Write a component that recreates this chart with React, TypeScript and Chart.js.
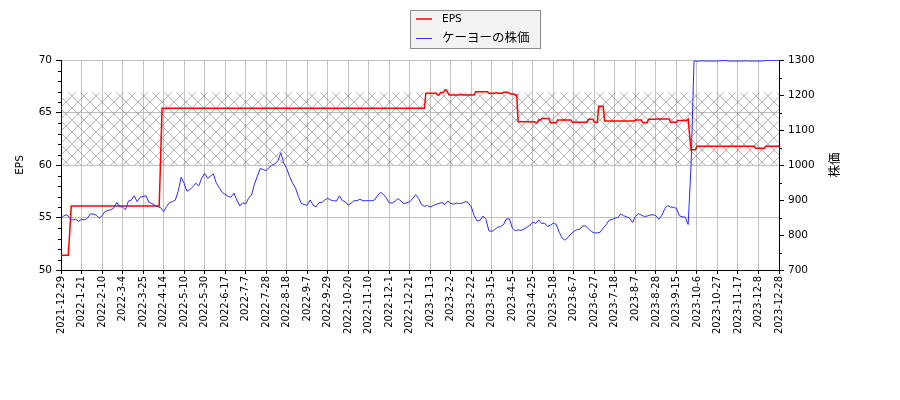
import { useEffect, useRef } from "react";
import { Chart, registerables } from "chart.js";

Chart.register(...registerables);

// date labels on the x axis, one every 14 trading days
const xLabels = [
  "2021-12-29", "2022-1-21", "2022-2-10", "2022-3-4", "2022-3-25", "2022-4-14",
  "2022-5-10", "2022-5-30", "2022-6-17", "2022-7-7", "2022-7-28", "2022-8-18",
  "2022-9-7", "2022-9-29", "2022-10-20", "2022-11-10", "2022-12-1", "2022-12-21",
  "2023-1-13", "2023-2-2", "2023-2-22", "2023-3-15", "2023-4-5", "2023-4-25",
  "2023-5-18", "2023-6-7", "2023-6-27", "2023-7-18", "2023-8-7", "2023-8-28",
  "2023-9-15", "2023-10-6", "2023-10-27", "2023-11-17", "2023-12-8", "2023-12-28",
];
const TICK_EVERY = 14;

// share price (yen), one value every 2 trading days
const PRICE_STEP = 2;
const priceValues = [
  848, 855, 858, 848, 843, 845, 839, 845, 843, 848,
  860, 860, 857, 848, 855, 867, 870, 872, 877, 893,
  881, 880, 872, 897, 900, 912, 895, 908, 910, 912,
  893, 890, 885, 881, 878, 867, 881, 893, 895, 900,
  925, 965, 948, 925, 930, 938, 948, 940, 962, 976,
  962, 968, 975, 948, 935, 922, 916, 910, 908, 920,
  900, 883, 892, 889, 905, 914, 945, 968, 990, 987,
  984, 993, 999, 1003, 1012, 1035, 1006, 990, 967, 948,
  935, 910, 890, 887, 885, 900, 886, 880, 892, 893,
  900, 905, 900, 898, 897, 912, 898, 895, 885, 891,
  898, 898, 902, 898, 898, 898, 898, 900, 912, 922,
  916, 906, 892, 891, 897, 904, 897, 890, 892, 895,
  904, 915, 905, 887, 882, 884, 880, 884, 888, 890,
  893, 887, 897, 890, 888, 891, 890, 891, 896, 892,
  880, 855, 840, 842, 854, 845, 812, 810, 816, 822,
  824, 830, 846, 846, 820, 812, 815, 813, 817, 822,
  828, 837, 833, 843, 833, 834, 825, 828, 834, 830,
  808, 791, 785, 794, 803, 810, 815, 816, 826, 826,
  817, 810, 806, 806, 808, 820, 829, 842, 844, 848,
  850, 860, 855, 852, 848, 836, 852, 861, 857, 853,
  854, 857, 858, 855, 845, 856, 875, 884, 880, 879,
  876, 855, 852, 851, 830, 1000, 1297, 1297, 1297, 1298,
  1297, 1297, 1297, 1297, 1297, 1298, 1299, 1298, 1297, 1297,
  1297, 1297, 1297, 1297, 1298, 1297, 1297, 1297, 1297, 1297,
  1298, 1299, 1299, 1299, 1299, 1299,
];

// EPS as [trading day, value] where it changes
const epsPoints: [number, number][] = [
  [0, 51.4], [5, 51.4], [6, 53.7], [7, 56.1], [67, 56.1], [68, 60.7], [69, 65.4],
  [248, 65.4], [249, 66.83], [256, 66.83], [257, 66.67], [258, 66.67], [259, 66.9],
  [261, 66.9], [262, 67.14], [263, 67.14], [264, 66.9], [265, 66.67], [272, 66.67],
  [273, 66.76], [274, 66.67], [282, 66.67], [283, 66.98], [291, 66.98], [292, 66.83],
  [296, 66.83], [297, 66.89], [298, 66.83], [301, 66.83], [302, 66.92], [305, 66.92],
  [306, 66.83], [307, 66.76], [309, 66.76], [310, 66.67], [311, 66.67], [312, 64.13],
  [323, 64.13], [324, 64.03], [325, 64.03], [326, 64.29], [327, 64.29], [328, 64.44],
  [333, 64.44], [334, 64.03], [338, 64.03], [339, 64.29], [348, 64.29], [349, 64.06],
  [359, 64.06], [360, 64.35], [363, 64.35], [364, 64.06], [366, 64.06], [367, 65.6],
  [370, 65.6], [371, 64.2], [391, 64.2], [392, 64.29], [396, 64.29], [397, 64.03],
  [400, 64.03], [401, 64.35], [405, 64.35], [406, 64.38], [415, 64.38], [416, 64.06],
  [420, 64.06], [421, 64.25], [427, 64.25], [428, 64.38], [429, 62.86], [430, 61.46],
  [433, 61.46], [434, 61.78], [473, 61.78], [474, 61.6], [480, 61.6], [481, 61.78],
  [490, 61.78],
];

// hatched band on the EPS axis
const hatchBand = [60, 66.9];

const FONT = "'DejaVu Sans', 'Noto Sans CJK JP', sans-serif";
const GRID = "#c2c2c2";

const makeHatch = () => {
  const cell = 12;
  const size = cell * 4;
  const c = document.createElement("canvas");
  c.width = size;
  c.height = size;
  const g = c.getContext("2d")!;
  g.strokeStyle = "rgba(110,110,110,0.5)";
  g.lineWidth = 1;
  for (let k = -4; k <= 8; k++) {
    g.beginPath();
    g.moveTo(k * cell, 0);
    g.lineTo(k * cell + size, size);
    g.moveTo(k * cell, 0);
    g.lineTo(k * cell - size, size);
    g.stroke();
  }
  return g.createPattern(c, "repeat");
};

const overlayPlugin = {
  id: "overlay",
  beforeDatasetsDraw(chart: any) {
    const { ctx, chartArea, scales } = chart;
    const top = scales.y.getPixelForValue(hatchBand[1]);
    const bottom = scales.y.getPixelForValue(hatchBand[0]);
    ctx.save();
    ctx.fillStyle = makeHatch();
    ctx.fillRect(chartArea.left, top, chartArea.right - chartArea.left, bottom - top);
    ctx.restore();
  },
  afterDraw(chart: any) {
    const { ctx, chartArea, scales } = chart;
    ctx.save();

    // minor ticks
    ctx.strokeStyle = "#000";
    ctx.lineWidth = 1;
    ctx.beginPath();
    for (let v = 51; v < 70; v++) {
      if (v % 5 === 0) continue;
      const py = Math.round(scales.y.getPixelForValue(v)) + 0.5;
      ctx.moveTo(chartArea.left, py);
      ctx.lineTo(chartArea.left - 3, py);
    }
    for (let v = 750; v < 1300; v += 100) {
      const py = Math.round(scales.y1.getPixelForValue(v)) + 0.5;
      ctx.moveTo(chartArea.right, py);
      ctx.lineTo(chartArea.right + 3, py);
    }
    ctx.stroke();

    // axis titles
    ctx.fillStyle = "#000";
    ctx.textAlign = "center";
    ctx.textBaseline = "middle";
    const midY = (chartArea.top + chartArea.bottom) / 2;
    ctx.save();
    ctx.translate(20, midY);
    ctx.rotate(-Math.PI / 2);
    ctx.font = `10.5px ${FONT}`;
    ctx.fillText("EPS", 0, 0);
    ctx.restore();
    ctx.save();
    ctx.translate(836, midY);
    ctx.rotate(-Math.PI / 2);
    ctx.font = `12.5px ${FONT}`;
    ctx.fillText("株価", 0, 0);
    ctx.restore();

    // legend box
    ctx.fillStyle = "rgba(242,242,242,0.9)";
    ctx.fillRect(410.5, 10.5, 130, 38);
    ctx.strokeStyle = "#8c8c8c";
    ctx.strokeRect(410.5, 10.5, 130, 38);
    ctx.lineWidth = 1.5;
    ctx.strokeStyle = "#ff0000";
    ctx.beginPath();
    ctx.moveTo(416, 19);
    ctx.lineTo(432, 19);
    ctx.stroke();
    ctx.lineWidth = 1;
    ctx.strokeStyle = "#3030ff";
    ctx.beginPath();
    ctx.moveTo(416, 38.5);
    ctx.lineTo(432, 38.5);
    ctx.stroke();
    ctx.fillStyle = "#000";
    ctx.textAlign = "left";
    ctx.font = `10.5px ${FONT}`;
    ctx.fillText("EPS", 442, 19);
    ctx.font = `12.5px ${FONT}`;
    ctx.fillText("ケーヨーの株価", 442, 38.5);

    ctx.restore();
  },
};

const App = () => {
  const canvasRef = useRef<HTMLCanvasElement>(null);

  useEffect(() => {
    document.body.style.margin = "0";
    if (!canvasRef.current) return;

    const chart = new Chart(canvasRef.current, {
      type: "line",
      data: {
        datasets: [
          {
            label: "EPS",
            data: epsPoints.map(([x, y]) => ({ x, y })),
            borderColor: "#ff0000",
            borderWidth: 1.5,
            pointRadius: 0,
            yAxisID: "y",
            order: 1,
          },
          {
            label: "ケーヨーの株価",
            data: priceValues.map((y, i) => ({ x: i * PRICE_STEP, y })),
            borderColor: "#2a2aff",
            borderWidth: 1,
            pointRadius: 0,
            yAxisID: "y1",
            order: 0,
          },
        ],
      },
      options: {
        responsive: false,
        animation: false,
        devicePixelRatio: 1,
        layout: { padding: { top: 60, left: 0, right: 0, bottom: 0 } },
        plugins: {
          legend: { display: false },
          tooltip: { enabled: false },
        },
        scales: {
          x: {
            type: "linear",
            min: 0,
            max: (xLabels.length - 1) * TICK_EVERY,
            afterBuildTicks: (scale: any) => {
              scale.ticks = xLabels.map((_, i) => ({ value: i * TICK_EVERY }));
            },
            afterFit: (scale: any) => {
              scale.height = 130;
            },
            ticks: {
              autoSkip: false,
              maxRotation: 90,
              minRotation: 90,
              padding: 2,
              color: "#000",
              font: { family: FONT, size: 10 },
              callback: (value: any) => xLabels[Math.round(Number(value) / TICK_EVERY)] ?? "",
            },
            grid: { color: GRID, tickColor: "#000", tickLength: 4 },
            border: { color: "#000", width: 1 },
          },
          y: {
            position: "left",
            min: 50,
            max: 70,
            afterFit: (scale: any) => {
              scale.width = 61;
            },
            ticks: {
              stepSize: 5,
              padding: 4,
              color: "#000",
              font: { family: FONT, size: 10.5 },
              callback: (value: any) => String(value),
            },
            grid: { color: GRID, tickColor: "#000", tickLength: 5 },
            border: { color: "#000", width: 1 },
          },
          y1: {
            position: "right",
            min: 700,
            max: 1300,
            afterFit: (scale: any) => {
              scale.width = 121;
            },
            ticks: {
              stepSize: 100,
              padding: 4,
              color: "#000",
              font: { family: FONT, size: 10.5 },
              callback: (value: any) => String(value),
            },
            grid: { drawOnChartArea: false, tickColor: "#000", tickLength: 5 },
            border: { color: "#000", width: 1 },
          },
        },
      },
      plugins: [overlayPlugin],
    });

    return () => {
      chart.destroy();
    };
  }, []);

  return (
    <div style={{ width: 900, height: 400 }}>
      <canvas ref={canvasRef} width={900} height={400} style={{ display: "block" }} />
    </div>
  );
};

export default App;
